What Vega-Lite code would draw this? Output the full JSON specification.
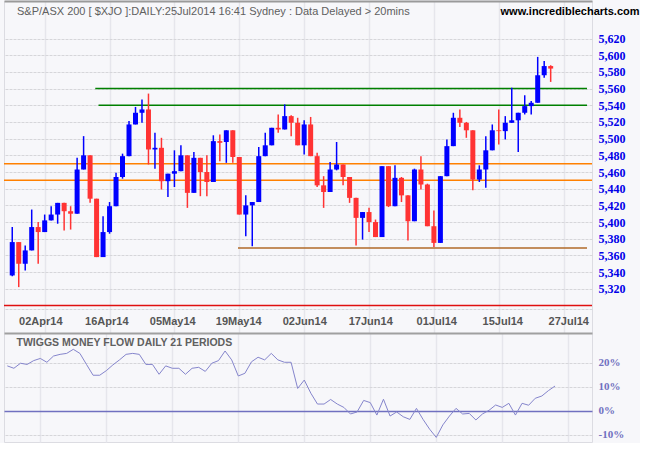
{
  "$schema": "https://vega.github.io/schema/vega-lite/v6.json",
  "background": "#F7F7FA",
  "padding": {"left": 2, "top": 0, "right": 0, "bottom": 0},
  "bounds": "flush",
  "spacing": 0,
  "config": {
    "view": {"stroke": "#DCDCE2", "strokeWidth": 1},
    "font": "Liberation Sans",
    "axis": {"labelOverlap": false}
  },
  "datasets": {
    "bars": [
      {"i":0,"open":5336,"high":5394,"low":5335,"close":5376,"mf":18.8},
      {"i":1,"open":5376,"high":5376,"low":5322,"close":5350,"mf":17.8},
      {"i":2,"open":5350,"high":5372,"low":5342,"close":5366,"mf":19.9},
      {"i":3,"open":5366,"high":5415,"low":5366,"close":5394,"mf":19.4},
      {"i":4,"open":5394,"high":5400,"low":5350,"close":5388,"mf":21.0},
      {"i":5,"open":5388,"high":5409,"low":5388,"close":5402,"mf":21.9},
      {"i":6,"open":5402,"high":5419,"low":5402,"close":5409,"mf":20.3},
      {"i":7,"open":5409,"high":5423,"low":5398,"close":5423,"mf":22.9},
      {"i":8,"open":5423,"high":5423,"low":5390,"close":5413,"mf":23.6},
      {"i":9,"open":5413,"high":5419,"low":5391,"close":5410,"mf":24.0},
      {"i":10,"open":5410,"high":5477,"low":5410,"close":5463,"mf":25.7},
      {"i":11,"open":5463,"high":5503,"low":5463,"close":5480,"mf":24.0},
      {"i":12,"open":5480,"high":5480,"low":5423,"close":5428,"mf":19.4},
      {"i":13,"open":5428,"high":5428,"low":5358,"close":5358,"mf":14.9},
      {"i":14,"open":5358,"high":5407,"low":5358,"close":5388,"mf":14.9},
      {"i":15,"open":5388,"high":5424,"low":5386,"close":5419,"mf":16.8},
      {"i":16,"open":5419,"high":5459,"low":5419,"close":5454,"mf":19.2},
      {"i":17,"open":5454,"high":5482,"low":5452,"close":5479,"mf":21.3},
      {"i":18,"open":5479,"high":5521,"low":5479,"close":5517,"mf":23.6},
      {"i":19,"open":5517,"high":5538,"low":5517,"close":5531,"mf":24.0},
      {"i":20,"open":5531,"high":5547,"low":5519,"close":5535,"mf":23.6},
      {"i":21,"open":5535,"high":5554,"low":5469,"close":5487,"mf":19.4},
      {"i":22,"open":5487,"high":5507,"low":5464,"close":5489,"mf":19.4},
      {"i":23,"open":5489,"high":5501,"low":5439,"close":5449,"mf":15.3},
      {"i":24,"open":5449,"high":5458,"low":5430,"close":5458,"mf":18.8},
      {"i":25,"open":5458,"high":5486,"low":5442,"close":5461,"mf":17.8},
      {"i":26,"open":5461,"high":5492,"low":5461,"close":5480,"mf":17.8},
      {"i":27,"open":5480,"high":5480,"low":5417,"close":5435,"mf":15.3},
      {"i":28,"open":5435,"high":5484,"low":5435,"close":5477,"mf":17.8},
      {"i":29,"open":5477,"high":5477,"low":5431,"close":5460,"mf":18.2},
      {"i":30,"open":5460,"high":5480,"low":5431,"close":5448,"mf":16.5},
      {"i":31,"open":5448,"high":5504,"low":5448,"close":5497,"mf":19.9},
      {"i":32,"open":5497,"high":5505,"low":5473,"close":5495,"mf":21.0},
      {"i":33,"open":5496,"high":5510,"low":5471,"close":5510,"mf":25.0},
      {"i":34,"open":5510,"high":5510,"low":5471,"close":5478,"mf":21.3},
      {"i":35,"open":5478,"high":5478,"low":5409,"close":5409,"mf":14.6},
      {"i":36,"open":5409,"high":5432,"low":5383,"close":5420,"mf":15.7},
      {"i":37,"open":5420,"high":5424,"low":5371,"close":5424,"mf":20.5},
      {"i":38,"open":5424,"high":5490,"low":5424,"close":5479,"mf":22.4},
      {"i":39,"open":5479,"high":5507,"low":5479,"close":5492,"mf":21.3},
      {"i":40,"open":5492,"high":5513,"low":5492,"close":5513,"mf":24.0},
      {"i":41,"open":5513,"high":5529,"low":5507,"close":5511,"mf":21.3},
      {"i":42,"open":5511,"high":5541,"low":5511,"close":5527,"mf":20.3},
      {"i":43,"open":5527,"high":5528,"low":5503,"close":5519,"mf":20.3},
      {"i":44,"open":5519,"high":5525,"low":5492,"close":5492,"mf":9.4},
      {"i":45,"open":5492,"high":5522,"low":5481,"close":5517,"mf":12.9},
      {"i":46,"open":5517,"high":5526,"low":5479,"close":5479,"mf":7.4},
      {"i":47,"open":5479,"high":5483,"low":5442,"close":5444,"mf":2.9},
      {"i":48,"open":5444,"high":5455,"low":5417,"close":5436,"mf":2.9},
      {"i":49,"open":5436,"high":5472,"low":5436,"close":5463,"mf":4.8},
      {"i":50,"open":5463,"high":5496,"low":5462,"close":5469,"mf":2.9},
      {"i":51,"open":5469,"high":5469,"low":5444,"close":5454,"mf":1.5},
      {"i":52,"open":5454,"high":5454,"low":5423,"close":5429,"mf":-1.25},
      {"i":53,"open":5429,"high":5429,"low":5372,"close":5405,"mf":-0.4},
      {"i":54,"open":5405,"high":5412,"low":5379,"close":5412,"mf":4.4},
      {"i":55,"open":5412,"high":5417,"low":5388,"close":5400,"mf":3.5},
      {"i":56,"open":5400,"high":5403,"low":5382,"close":5382,"mf":-1.7},
      {"i":57,"open":5382,"high":5467,"low":5382,"close":5467,"mf":4.9},
      {"i":58,"open":5467,"high":5467,"low":5418,"close":5419,"mf":-2.1},
      {"i":59,"open":5419,"high":5468,"low":5419,"close":5453,"mf":-0.4},
      {"i":60,"open":5453,"high":5454,"low":5424,"close":5432,"mf":-2.4},
      {"i":61,"open":5432,"high":5432,"low":5378,"close":5401,"mf":-3.5},
      {"i":62,"open":5401,"high":5464,"low":5401,"close":5463,"mf":1.1},
      {"i":63,"open":5463,"high":5479,"low":5439,"close":5445,"mf":-3.5},
      {"i":64,"open":5445,"high":5446,"low":5395,"close":5395,"mf":-7.6},
      {"i":65,"open":5395,"high":5414,"low":5370,"close":5375,"mf":-11.0},
      {"i":66,"open":5375,"high":5455,"low":5375,"close":5455,"mf":-5.8},
      {"i":67,"open":5455,"high":5499,"low":5455,"close":5491,"mf":-2.1},
      {"i":68,"open":5491,"high":5531,"low":5491,"close":5525,"mf":1.1},
      {"i":69,"open":5525,"high":5535,"low":5514,"close":5519,"mf":-1.25},
      {"i":70,"open":5519,"high":5520,"low":5501,"close":5510,"mf":-1.0},
      {"i":71,"open":5510,"high":5510,"low":5438,"close":5451,"mf":-3.75},
      {"i":72,"open":5451,"high":5468,"low":5448,"close":5463,"mf":-1.25},
      {"i":73,"open":5463,"high":5503,"low":5441,"close":5486,"mf":0.3},
      {"i":74,"open":5486,"high":5517,"low":5486,"close":5510,"mf":2.5},
      {"i":75,"open":5510,"high":5535,"low":5493,"close":5509,"mf":1.5},
      {"i":76,"open":5509,"high":5527,"low":5499,"close":5519,"mf":3.2},
      {"i":77,"open":5519,"high":5561,"low":5519,"close":5522,"mf":-1.7},
      {"i":78,"open":5522,"high":5531,"low":5484,"close":5531,"mf":3.2},
      {"i":79,"open":5531,"high":5552,"low":5529,"close":5539,"mf":2.4},
      {"i":80,"open":5539,"high":5545,"low":5529,"close":5543,"mf":5.3},
      {"i":81,"open":5543,"high":5598,"low":5543,"close":5576,"mf":6.25},
      {"i":82,"open":5576,"high":5593,"low":5573,"close":5587,"mf":8.5},
      {"i":83,"open":5587,"high":5588,"low":5568,"close":5584,"mf":10.4}
    ],
    "partialLevels": [
      {"kind":"green","level":5560,"from":12.8,"to":88.6},
      {"kind":"green","level":5540,"from":13.3,"to":88.6},
      {"kind":"brown","level":5369,"from":34.8,"to":88.6}
    ],
    "fullLevels": [
      {"kind":"orange","level":5470},
      {"kind":"orange","level":5450},
      {"kind":"red","level":5300}
    ]
  },
  "vconcat": [
    {
      "width": 588,
      "height": 332,
      "layer": [
        {
          "data": {"name": "partialLevels"},
          "mark": {"type": "rule", "strokeWidth": 1.5},
          "encoding": {
            "x": {"field": "from", "type": "quantitative",
              "scale": {"domain": [-0.5, 88.6], "nice": false, "zero": false},
              "axis": {"orient": "top", "values": [5,15,25,35,45,55,65,75,85], "tickCount": 30, "labels": false, "ticks": false, "grid": true, "gridColor": "#E6E6EC", "gridWidth": 1.5, "domain": true, "domainColor": "#9A9A9A", "domainWidth": 2,
                "title": "S&P/ASX 200 [ $XJO ]:DAILY:25Jul2014 16:41 Sydney : Data Delayed > 20mins",
                "titleX": 12.5, "titleY": 13, "titleAlign": "left", "titleAngle": 0, "titleBaseline": "alphabetic", "titleFont": "Liberation Sans", "titleFontSize": 11, "titleFontWeight": "normal", "titleColor": "#606060"}},
            "x2": {"field": "to"},
            "y": {"field": "level", "type": "quantitative",
              "scale": {"domain": [5267, 5665], "nice": false, "zero": false},
              "axis": {"orient": "right", "values": [5296,5320,5340,5360,5380,5400,5420,5440,5460,5480,5500,5520,5540,5560,5580,5600,5620], "tickCount": 40, "labelExpr": "datum.value < 5300 ? '' : format(datum.value, ',')", "ticks": false, "domain": false, "grid": true, "gridColor": "#D6D6DA", "gridDash": [3, 1], "gridWidth": 1, "labelPadding": 6, "labelFont": "Liberation Serif", "labelFontSize": 12, "labelFontWeight": "bold", "labelColor": "#0000E8", "labelOverlap": false,
                "title": "www.incrediblecharts.com",
                "titleX": 47, "titleY": 13, "titleAlign": "right", "titleAngle": 0, "titleBaseline": "alphabetic", "titleFont": "Liberation Sans", "titleFontSize": 11, "titleFontWeight": "bold", "titleColor": "#000000"}},
            "color": {"field": "kind", "type": "nominal", "scale": {"domain": ["green","orange","brown","red"], "range": ["#008000","#FF8000","#B06A28","#E01010"]}, "legend": null}
          }
        },
        {
          "data": {"name": "fullLevels"},
          "mark": {"type": "rule", "strokeWidth": 1.5},
          "encoding": {
            "y": {"field": "level", "type": "quantitative"},
            "color": {"field": "kind", "type": "nominal", "legend": null}
          }
        },
        {
          "data": {"name": "bars"},
          "mark": {"type": "rule", "strokeWidth": 1.5},
          "encoding": {
            "x": {"field": "i", "type": "quantitative"},
            "y": {"field": "low", "type": "quantitative"},
            "y2": {"field": "high"},
            "color": {"condition": {"test": "datum.close >= datum.open", "value": "#0000FF"}, "value": "#FF3333"}
          }
        },
        {
          "data": {"name": "bars"},
          "mark": {"type": "bar", "size": 5},
          "encoding": {
            "x": {"field": "i", "type": "quantitative"},
            "y": {"field": "open", "type": "quantitative"},
            "y2": {"field": "close"},
            "color": {"condition": {"test": "datum.close >= datum.open", "value": "#0000FF"}, "value": "#FF3333"}
          }
        }
      ]
    },
    {
      "width": 588,
      "height": 109,
      "data": {"name": "bars"},
      "mark": {"type": "line", "color": "#8585CC", "strokeWidth": 1},
      "encoding": {
        "x": {"field": "i", "type": "quantitative",
          "scale": {"domain": [-0.5, 88.6], "nice": false, "zero": false},
          "axis": {"orient": "top", "values": [5,15,25,35,45,55,65,75,85], "labelExpr": "['02Apr14','16Apr14','05May14','19May14','02Jun14','17Jun14','01Jul14','15Jul14','27Jul14'][(datum.value - 5) / 10]", "labelFlush": false, "labelOverlap": false, "ticks": false, "grid": true, "gridColor": "#E6E6EC", "gridWidth": 1.5, "domain": true, "domainColor": "#A0A0A0", "domainWidth": 2, "labelPadding": 9, "labelBaseline": "alphabetic", "labelFont": "Liberation Sans", "labelFontSize": 11, "labelFontWeight": "bold", "labelColor": "#555555",
            "title": "TWIGGS MONEY FLOW DAILY 21 PERIODS",
            "titleX": 12, "titleY": 12, "titleAlign": "left", "titleAngle": 0, "titleBaseline": "alphabetic", "titleFont": "Liberation Sans", "titleFontSize": 10.5, "titleFontWeight": "bold", "titleColor": "#606060"}},
        "y": {"field": "mf", "type": "quantitative",
          "scale": {"domain": [-12.92, 32.5], "nice": false, "zero": false},
          "axis": {"orient": "right", "values": [-10, 0, 10, 20], "labelExpr": "datum.value + '%'", "ticks": false, "domain": false, "grid": true,
            "gridColor": {"condition": {"test": "datum.value === 0", "value": "#7070C0"}, "value": "#D6D6DA"},
            "gridDash": {"condition": {"test": "datum.value === 0", "value": []}, "value": [3, 1]},
            "gridWidth": {"condition": {"test": "datum.value === 0", "value": 1.5}, "value": 1},
            "labelPadding": 6, "labelFont": "Liberation Serif", "labelFontSize": 11, "labelFontWeight": "bold", "labelColor": "#7070C0", "labelOverlap": false, "title": null}}
      }
    }
  ]
}
